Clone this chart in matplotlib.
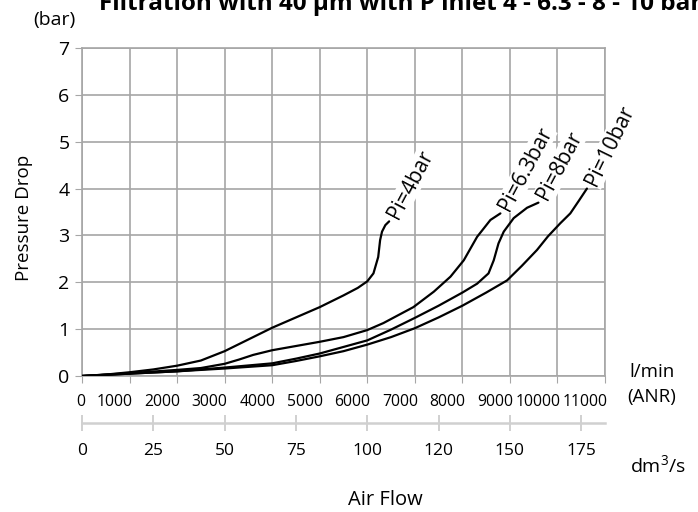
import matplotlib
matplotlib.use('Agg')
import matplotlib.pyplot as plt
import matplotlib.transforms as mtransforms

plt.rcParams['font.family'] = ['Open Sans', 'DejaVu Sans']
plt.rcParams['mathtext.fontset'] = 'custom'
plt.rcParams['mathtext.rm'] = 'Open Sans'

###########
# DATA
###########
# air flow in l/min (ANR), pressure drop in bar
x_4bar = [0, 500, 1000, 1500, 2000, 2500, 3000, 3500, 4000, 4500, 5000, 5500, 5800,
          6000, 6130, 6230, 6270, 6310, 6380, 6460]
y_4bar = [0, 0.03, 0.08, 0.14, 0.22, 0.33, 0.53, 0.78, 1.03, 1.25, 1.47, 1.72, 1.88,
          2.02, 2.19, 2.54, 2.9, 3.08, 3.22, 3.3]

x_63bar = [0, 1000, 2000, 2500, 3000, 3300, 3600, 4000, 4500, 5000, 5500, 6000, 6340,
           6970, 7400, 7750, 8030, 8310, 8590, 8800]
y_63bar = [0, 0.06, 0.13, 0.17, 0.26, 0.35, 0.45, 0.55, 0.64, 0.73, 0.83, 0.98, 1.13,
           1.47, 1.8, 2.12, 2.47, 2.97, 3.33, 3.47]

x_8bar = [0, 1000, 2000, 3000, 4000, 4500, 5000, 5500, 6000, 6500, 7000, 7500, 8000,
          8310, 8550, 8660, 8760, 8870, 9080, 9360, 9600]
y_8bar = [0, 0.05, 0.1, 0.18, 0.27, 0.37, 0.48, 0.62, 0.76, 0.99, 1.24, 1.5, 1.78,
          1.97, 2.19, 2.47, 2.83, 3.08, 3.37, 3.59, 3.7]

x_10bar = [0, 1000, 2000, 3000, 4000, 4500, 5000, 5500, 6000, 6500, 7000, 7500, 8000,
           8500, 8940, 9250, 9570, 9800, 10060, 10270, 10450, 10620]
y_10bar = [0, 0.05, 0.1, 0.16, 0.23, 0.32, 0.42, 0.53, 0.67, 0.83, 1.02, 1.25, 1.5,
           1.78, 2.04, 2.35, 2.69, 2.98, 3.26, 3.47, 3.74, 4.0]

curve_labels = ['Pi=4bar', 'Pi=6.3bar', 'Pi=8bar', 'Pi=10bar']
label_angles = [62, 62, 62, 64]

x_ticks = list(range(0, 12000, 1000))
y_ticks = list(range(0, 8))

# second scale in dm3/s
dm3s_ticks = [0, 25, 50, 75, 100, 125, 150, 175]
dm3s_labels = ['0', '25', '50', '75', '100', '120', '150', '175']

###########
# FIGURE
###########
fig = plt.figure(figsize=(6.98, 5.12), dpi=100)
ax = fig.add_axes([82 / 698, 1 - 376 / 512, 523 / 698, 328 / 512])

grid_col = '#a6a6a6'

curves = [(x_4bar, y_4bar), (x_63bar, y_63bar), (x_8bar, y_8bar), (x_10bar, y_10bar)]
for (xs, ys), lab, ang in zip(curves, curve_labels, label_angles):
    ax.plot(xs, ys, color='black', lw=1.6, solid_capstyle='round', zorder=3)
    ax.annotate(lab, xy=(xs[-1], ys[-1]), xytext=(3, 3), textcoords='offset points',
                rotation=ang, rotation_mode='anchor', ha='left', va='center',
                fontsize=15, zorder=4,
                bbox=dict(facecolor='white', edgecolor='none', pad=0.5))

ax.set_xlim(0, 11000)
ax.set_ylim(0, 7)
ax.set_xticks(x_ticks)
ax.set_yticks(y_ticks)
ax.tick_params(axis='x', labelsize=11.3, color=grid_col, length=5, pad=8)
ax.tick_params(axis='y', labelsize=14, color=grid_col, length=5, pad=4)
# x labels sit right-aligned a few pixels past each grid line
shift = mtransforms.ScaledTranslation(3 / 100, 0, fig.dpi_scale_trans)
for lbl in ax.get_xticklabels():
    lbl.set_horizontalalignment('right')
    lbl.set_transform(lbl.get_transform() + shift)
ax.grid(True, color=grid_col, lw=1.2)
ax.set_axisbelow(True)
for s in ax.spines.values():
    s.set_color(grid_col)
    s.set_linewidth(1.2)

# secondary flow axis
sec = ax.secondary_xaxis(-0.1433, functions=(lambda v: v / 60.0, lambda v: v * 60.0))
sec.set_xticks(dm3s_ticks)
sec.set_xticklabels(dm3s_labels)
sec.tick_params(labelsize=12.5, color='#c8c8c8', direction='inout', length=11, width=1.2, pad=9)
sec.spines['bottom'].set_color('#d0d0d0')
sec.spines['bottom'].set_linewidth(1.8)

# texts
fig.text(99 / 698, 1 - 10 / 512, 'Filtration with 40 µm with P inlet 4 - 6.3 - 8 - 10 bar',
         fontsize=17.5, fontweight='bold', ha='left', va='baseline')
fig.text(54 / 698, 1 - 20 / 512, '(bar)', fontsize=14, ha='center', va='center')
fig.text(24 / 698, 1 - 218 / 512, 'Pressure Drop', fontsize=13.5, rotation=90,
         ha='center', va='center')
fig.text(652 / 698, 1 - 372 / 512, 'l/min', fontsize=13.5, ha='center', va='center')
fig.text(652 / 698, 1 - 397 / 512, '(ANR)', fontsize=13.5, ha='center', va='center')
fig.text(630 / 698, 1 - 466 / 512, r'dm$^{3}$/s', fontsize=14, ha='left', va='center')
fig.text(385 / 698, 1 - 500 / 512, 'Air Flow', fontsize=14.5, ha='center', va='center')

plt.savefig('out.png', dpi=100)
